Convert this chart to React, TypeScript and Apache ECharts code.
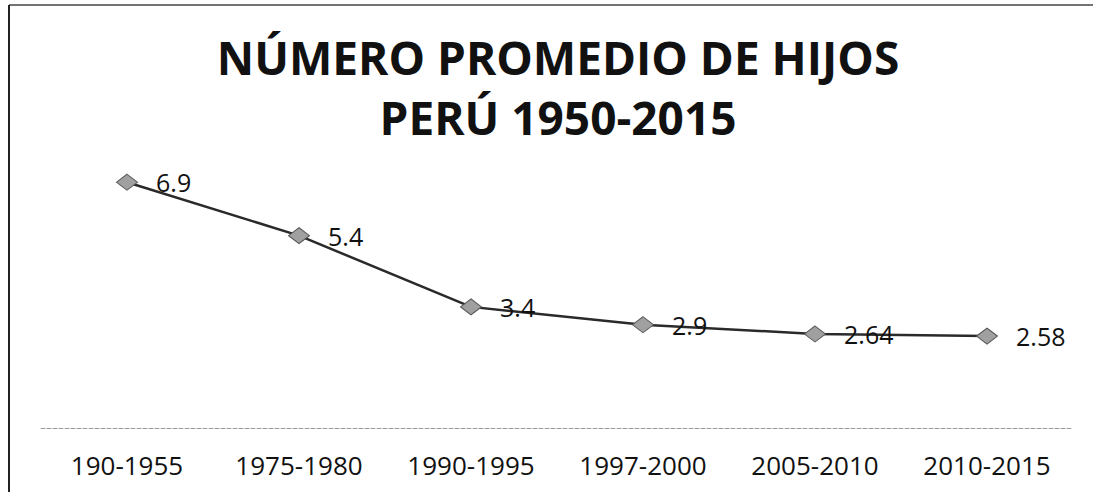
import React, { useEffect, useRef } from "react";
import * as echarts from "echarts";

const titleText = "NÚMERO PROMEDIO DE HIJOS\nPERÚ 1950-2015";
const categories = ["190-1955", "1975-1980", "1990-1995", "1997-2000", "2005-2010", "2010-2015"];
const values = [6.9, 5.4, 3.4, 2.9, 2.64, 2.58];

export default function App() {
  const ref = useRef<HTMLDivElement>(null);
  useEffect(() => {
    document.body.style.margin = "0";
    const chart = echarts.init(ref.current!, null, { renderer: "svg" });
    chart.setOption({
      animation: false,
      backgroundColor: "#ffffff",
      title: {
        text: titleText,
        left: 553,
        top: 22,
        textAlign: "center",
        textStyle: {
          fontFamily: "Open Sans",
          fontWeight: "bold",
          fontSize: 46,
          lineHeight: 60,
          color: "#111",
        },
      },
      grid: { left: 41, right: 20, top: 143, bottom: 64 },
      xAxis: {
        type: "category",
        data: categories,
        boundaryGap: true,
        axisLine: { show: true, lineStyle: { color: "#9a9a9a", width: 1, type: [4, 2] } },
        axisTick: { show: false },
        axisLabel: {
          margin: 24,
          fontFamily: "Open Sans",
          fontSize: 26,
          color: "#111",
        },
      },
      yAxis: {
        type: "value",
        min: 0,
        max: 8,
        show: false,
        splitLine: { show: false },
      },
      series: [
        {
          type: "line",
          data: values,
          symbol: "diamond",
          symbolSize: [21, 16],
          lineStyle: { color: "#2a2a2a", width: 2.5 },
          itemStyle: { color: "#a0a0a0", borderColor: "#555", borderWidth: 1 },
          label: {
            show: true,
            position: "right",
            distance: 18,
            fontFamily: "Open Sans",
            fontSize: 25,
            color: "#111",
          },
        },
      ],
      graphic: [
        { type: "line", shape: { x1: 9, y1: 5, x2: 1093, y2: 5 }, style: { stroke: "#444", lineWidth: 1.5 } },
        { type: "line", shape: { x1: 9, y1: 5, x2: 9, y2: 492 }, style: { stroke: "#222", lineWidth: 2 } },
      ],
    });
    return () => chart.dispose();
  }, []);
  return <div ref={ref} style={{ width: 1093, height: 492 }} />;
}
